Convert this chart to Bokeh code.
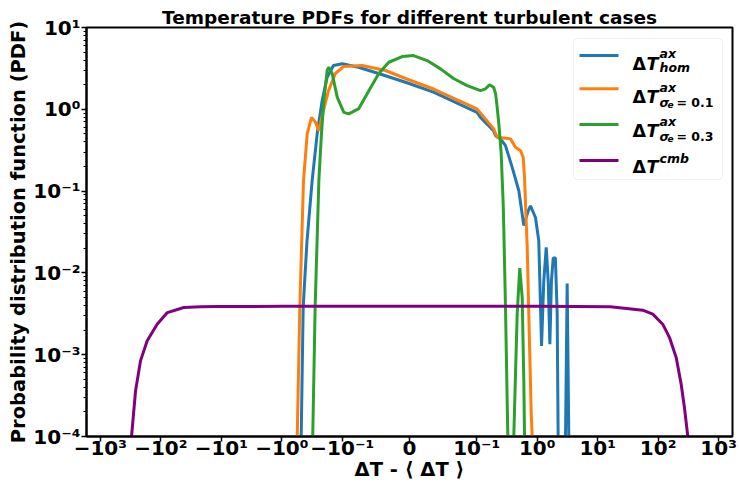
import math
from bokeh.plotting import figure
from bokeh.models import Range1d, FixedTicker, Label, BoxAnnotation, ColumnDataSource
from bokeh.embed import file_html
from bokeh.resources import INLINE

# ---------------- data ----------------
x_hom = [-0.50, -0.478, -0.460, -0.443, -0.383, -0.315, -0.260, -0.215, -0.178, -0.140,
         -0.100, -0.0759, -0.0461, -0.0060, 0.0357, 0.1012, 0.1156, 0.190, 0.205, 0.247,
         0.299, 0.386, 0.497, 0.601, 0.710, 0.775, 0.937, 1.062, 1.18, 1.285, 1.41, 1.52,
         1.62, 1.72, 1.84, 2.00, 2.14, 2.22, 2.40, 2.80, 2.94, 3.13, 3.33, 3.50]
y_hom = [1e-6, 1.0e-4, 6.3e-4, 3.85e-3, 0.0247, 0.134, 0.505, 1.28, 2.47, 3.43,
         3.6, 3.27, 2.74, 2.14, 1.62, 0.918, 0.797, 0.548, 0.476, 0.435,
         0.360, 0.195, 0.101, 0.0378, 0.0575, 0.0662, 0.0476, 0.0247, 1.28e-3, 8.0e-3, 0.0205, 8.0e-3,
         1.34e-3, 8.0e-3, 0.0152, 0.0152, 3.16e-3, 1e-4, 1e-6, 1e-6, 1e-4, 7.4e-3, 1e-4, 1e-6]

x_s01 = [-0.60, -0.556, -0.504, -0.438, -0.380, -0.323, -0.277, -0.244, -0.205, -0.169,
         -0.130, -0.0982, -0.0704, -0.0357, -0.006, 0.0357, 0.1012, 0.190, 0.218, 0.362,
         0.438, 0.530, 0.587, 0.617, 0.641, 0.684, 0.749, 0.797, 0.827, 0.87]
y_s01 = [1e-6, 1e-4, 3.85e-3, 0.134, 0.505, 0.798, 0.693, 0.548, 0.964, 1.69,
         2.74, 3.33, 3.43, 2.98, 2.38, 1.77, 1.01, 0.58, 0.454, 0.435,
         0.343, 0.312, 0.258, 0.147, 0.070, 0.0205, 1.22e-3, 1.88e-4, 1e-4, 1e-6]

x_s03 = [-0.33, -0.308, -0.281, -0.244, -0.221, -0.202, -0.178, -0.167, -0.147, -0.121,
         -0.0977, -0.0903, -0.0754, -0.0605, -0.0457, -0.0308, -0.0109, 0.0060, 0.0263, 0.0461,
         0.0655, 0.0858, 0.1156, 0.140, 0.163, 0.190, 0.205, 0.218, 0.232, 0.254,
         0.274, 0.281, 0.299, 0.327, 0.36, 0.39, 0.410, 0.467, 0.515, 0.565,
         0.601, 0.617, 0.64]
y_s03 = [1e-6, 1e-4, 3.85e-3, 0.134, 0.505, 1.28, 2.98, 3.27, 2.74, 1.40,
         0.918, 0.879, 1.02, 1.69, 2.74, 3.76, 4.41, 4.54, 3.94, 3.12,
         2.38, 1.95, 1.69, 1.78, 2.00, 1.86, 1.56, 1.06, 0.668, 0.287,
         0.070, 0.0327, 3.85e-3, 1e-4, 1e-6, 1e-6, 1e-4, 3.16e-3, 0.01146, 5.0e-3,
         4.8e-4, 1e-4, 1e-6]

x_cmb = [-330, -305, -262, -217, -168, -115, -78, -41.7, -22, -11.7, -1, 0, 1,
         16.2, 55.6, 81.5, 119, 154, 199, 240, 272, 309, 330]
y_cmb = [1e-6, 1e-4, 3.6e-4, 8.4e-4, 1.48e-3, 2.36e-3, 3.27e-3, 3.78e-3, 3.86e-3, 3.88e-3, 3.9e-3, 3.9e-3, 3.9e-3,
         3.85e-3, 3.5e-3, 3.13e-3, 2.36e-3, 1.62e-3, 9.2e-4, 4.35e-4, 2.25e-4, 1e-4, 1e-6]

x_tick_values = [-1000, -100, -10, -1, -0.1, 0, 0.1, 1, 10, 100, 1000]
x_tick_labels = ["\u221210\u00b3", "\u221210\u00b2", "\u221210\u00b9", "\u221210\u2070", "\u221210\u207b\u00b9",
                 "0", "10\u207b\u00b9", "10\u2070", "10\u00b9", "10\u00b2", "10\u00b3"]
y_tick_values = [1e-4, 1e-3, 1e-2, 1e-1, 1, 10]
y_tick_labels = ["10\u207b\u2074", "10\u207b\u00b3", "10\u207b\u00b2", "10\u207b\u00b9", "10\u2070", "10\u00b9"]

# ---------------- symmetric-log x scale (linthresh 0.1, linscale 1) ----------------
LINTHRESH = 0.1
LINSCALE_ADJ = 1.0 / (1.0 - 1.0 / 10.0)


def symlog(v):
    a = abs(v)
    if a <= LINTHRESH:
        return v / LINTHRESH * LINSCALE_ADJ
    s = 1.0 if v > 0 else -1.0
    return s * (LINSCALE_ADJ + math.log10(a / LINTHRESH))


X0, X1 = -5.34, 5.34
Y0, Y1 = 1e-4, 10.0

FONT = "DejaVu Sans"

p = figure(width=739, height=483, x_range=Range1d(X0, X1), y_range=Range1d(Y0, Y1),
           y_axis_type="log", output_backend="svg", toolbar_location=None,
           min_border_left=86, min_border_right=7, min_border_top=27, min_border_bottom=47)

p.background_fill_color = "white"
p.border_fill_color = "white"
p.grid.visible = False
p.outline_line_color = "black"
p.outline_line_width = 2

p.title.text = "Temperature PDFs for different turbulent cases"
p.title.text_font = FONT
p.title.text_font_size = "18.5px"
p.title.text_font_style = "bold"
p.title.text_color = "black"
p.title.align = "center"
p.title.standoff = 0

colors = {"hom": "#1f77b4", "s01": "#ff7f0e", "s03": "#2ca02c", "cmb": "#800080"}

series = [(x_hom, y_hom, colors["hom"]), (x_s01, y_s01, colors["s01"]),
          (x_s03, y_s03, colors["s03"]), (x_cmb, y_cmb, colors["cmb"])]
for xs, ys, c in series:
    src = ColumnDataSource(dict(x=[symlog(v) for v in xs], y=ys))
    p.line("x", "y", source=src, line_color=c, line_width=3)

# ---------------- axes ----------------
xa = p.xaxis[0]
xa.ticker = FixedTicker(ticks=[symlog(v) for v in x_tick_values])
xa.major_label_overrides = {symlog(v): lab for v, lab in zip(x_tick_values, x_tick_labels)}
xa.minor_tick_line_color = None
xa.axis_label = "\u0394T - \u27e8 \u0394T \u27e9"

ya = p.yaxis[0]
minor = [m * 10.0 ** e for e in range(-4, 1) for m in range(2, 10)]
ya.ticker = FixedTicker(ticks=y_tick_values, minor_ticks=minor)
ya.major_label_overrides = {v: lab for v, lab in zip(y_tick_values, y_tick_labels)}
ya.axis_label = "Probability distribution function (PDF)"

for ax in (xa, ya):
    ax.axis_line_width = 2
    ax.axis_line_color = "black"
    ax.major_tick_line_width = 1.5
    ax.major_tick_out = 5
    ax.major_tick_in = 0
    ax.minor_tick_out = 3
    ax.minor_tick_in = 0
    ax.minor_tick_line_width = 1
    ax.major_label_text_font = FONT
    ax.major_label_text_font_size = "20px"
    ax.major_label_text_font_style = "bold"
    ax.major_label_text_color = "black"
    ax.axis_label_text_font = FONT
    ax.axis_label_text_font_size = "19.5px"
    ax.axis_label_text_font_style = "bold"
    ax.axis_label_text_color = "black"

xa.major_label_standoff = -6
xa.axis_label_standoff = -5
ya.major_label_standoff = 1
ya.axis_label_standoff = 0

# ---------------- legend (custom, to allow stacked super/subscripts) ----------------
FL, FR, FT, FB = 86.0, 732.0, 27.0, 436.0
LY0, LY1 = math.log10(Y0), math.log10(Y1)


def dx(px):
    return X0 + (px - FL) / (FR - FL) * (X1 - X0)


def dy(py):
    return 10 ** (LY1 - (py - FT) / (FB - FT) * (LY1 - LY0))


p.add_layout(BoxAnnotation(left=dx(573), right=dx(722), top=dy(38), bottom=dy(179),
                           fill_color="white", fill_alpha=0.85, line_color="#cccccc",
                           line_width=1, border_radius=4, level="underlay"))

rows = [
    (colors["hom"], 55.0, 63.3, "ax", 53.3, "hom", None),
    (colors["s01"], 88.3, 96.7, "ax", 87.3, "\u03c3", "0.1"),
    (colors["s03"], 124.0, 130.7, "ax", 121.3, "\u03c3", "0.3"),
    (colors["cmb"], 160.0, 166.7, "cmb", 158.0, None, None),
]


def lab(px, py, text, size, style):
    p.add_layout(Label(x=dx(px), y=dy(py), text=text, text_font=FONT, text_font_size=size,
                       text_font_style=style, text_color="black", text_baseline="alphabetic",
                       text_align="left"))


for c, ly, base, sup, sup_base, sub, val in rows:
    seg = ColumnDataSource(dict(x=[dx(579), dx(618)], y=[dy(ly), dy(ly)]))
    p.line("x", "y", source=seg, line_color=c, line_width=3, level="overlay")
    lab(632.0, base, "\u0394", "17.5px", "bold")
    lab(646.0, base, "T", "17.5px", "bold italic")
    lab(659.0, sup_base, sup, "12.5px", "bold italic")
    if sub is not None and val is None:
        lab(659.0, base + 3.4, sub, "12.5px", "bold italic")
    elif sub is not None:
        lab(659.0, base + 5.0, sub, "12.5px", "bold italic")
        lab(667.0, base + 7.3, "e", "9px", "bold italic")
        lab(676.0, base + 5.0, "= " + val, "12.5px", "bold")

open("out.html", "w").write(file_html(p, INLINE))
